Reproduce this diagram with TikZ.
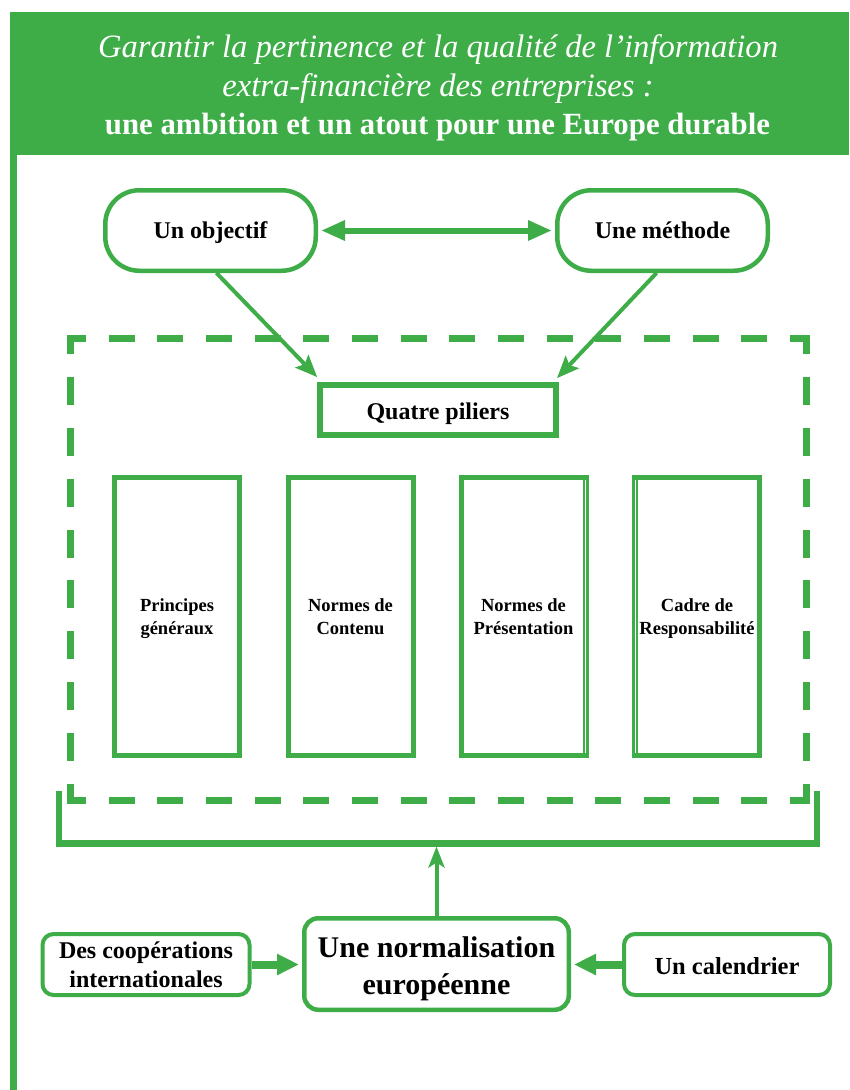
\documentclass[tikz,border=0pt]{standalone}
\usepackage{fontspec}
\setmainfont{Liberation Serif}
\usetikzlibrary{arrows.meta,calc}
\definecolor{vgreen}{RGB}{62,173,72}
% text block whose first baseline is placed by its declared height/depth
\newcommand\txtblock[3]{\raisebox{0pt}[#1][#2]{\begin{tabular}[t]{@{}c@{}}#3\end{tabular}}}
\begin{document}
\begin{tikzpicture}[x=1pt,y=-1pt,
  lbl/.style={text=black, font=\bfseries\fontsize{24}{28}\selectfont, inner sep=0pt},
  roundbox/.style={lbl, draw=vgreen, line width=4.5pt, rounded corners=34pt, minimum width=210.5pt, minimum height=80.5pt},
  titlebox/.style={lbl, draw=vgreen, line width=6pt, minimum width=236pt, minimum height=50pt},
  pillar/.style={lbl, draw=vgreen, line width=5pt, minimum width=125pt, minimum height=278pt, font=\bfseries\fontsize{18.5}{22.3}\selectfont},
  smallbox/.style={lbl, draw=vgreen, line width=4pt, rounded corners=11pt, minimum width=207pt, minimum height=61pt, font=\bfseries\fontsize{24}{29}\selectfont},
  bigbox/.style={lbl, draw=vgreen, line width=4.5pt, rounded corners=14pt, minimum width=264.5pt, minimum height=91.5pt, font=\bfseries\fontsize{30}{37}\selectfont},
  dasharr/.style={draw=vgreen, line width=6pt, {Triangle[length=24pt,width=19pt]}-{Triangle[length=24pt,width=19pt]}, shorten <=3pt, shorten >=3pt},
  diagarr/.style={draw=vgreen, line width=4pt, -{Stealth[length=22pt,width=18pt,inset=4pt]}, shorten >=4pt},
  uparr/.style={draw=vgreen, line width=4pt, -{Stealth[length=21pt,width=16pt,inset=5pt]}, shorten >=3pt},
  fatarr/.style={draw=vgreen, line width=8pt, -{Triangle[length=22pt,width=20pt]}, shorten >=3pt},
  framecorner/.style={draw=vgreen, line width=7pt, miter limit=10},
  framehside/.style={draw=vgreen, line width=7pt, dash pattern=on 26pt off 22.67pt, dash phase=26pt},
  framevside/.style={draw=vgreen, line width=7pt, dash pattern=on 28pt off 22.89pt, dash phase=28pt},
  brk/.style={draw=vgreen, line width=6.5pt},
  titletext/.style={text=white, inner sep=0pt, anchor=base}
]
\useasboundingbox (0,0) rectangle (849,1090);
\fill[white] (0,0) rectangle (849,1090);
% header and left bar
\fill[vgreen] (10,12) rectangle (849,155);
\fill[vgreen] (10,150) rectangle (17,1090);
\node[titletext, font=\itshape\fontsize{32.6}{39}\selectfont] (t1) at (438,57) {Garantir la pertinence et la qualité de l’information};
\node[titletext, font=\itshape\fontsize{32.6}{39}\selectfont] (t2) at (438,96.5) {extra-financière des entreprises :};
\node[titletext, font=\bfseries\fontsize{30.8}{39}\selectfont] (t3) at (437.5,134) {une ambition et un atout pour une Europe durable};

% top nodes
\node[roundbox] (obj) at (210.5,230.5) {\txtblock{16.5pt}{0pt}{Un objectif}};
\node[roundbox] (meth) at (662.5,230.5) {\txtblock{16.5pt}{0pt}{Une méthode}};
\draw[dasharr] (obj.east) -- (meth.west);

% dashed frame: corners and dashed sides
\coordinate (ftl) at (70,338);
\coordinate (ftr) at (806,338);
\coordinate (fbl) at (70,800);
\coordinate (fbr) at (806,800);
\draw[framecorner] ([yshift=-16pt]ftl) -- (ftl) -- ([xshift=16pt]ftl);
\draw[framecorner] ([xshift=-16pt]ftr) -- (ftr) -- ([yshift=-16pt]ftr);
\draw[framecorner] ([yshift=16pt]fbl) -- (fbl) -- ([xshift=16pt]fbl);
\draw[framecorner] ([xshift=-16pt]fbr) -- (fbr) -- ([yshift=16pt]fbr);
\draw[framehside] ([xshift=16pt]ftl) -- ([xshift=-16pt]ftr);
\draw[framehside] ([xshift=16pt]fbl) -- ([xshift=-16pt]fbr);
\draw[framevside] ([yshift=-16pt]ftl) -- ([yshift=16pt]fbl);
\draw[framevside] ([yshift=-16pt]ftr) -- ([yshift=16pt]fbr);

\node[titlebox] (quatre) at (438,410) {\txtblock{18.6pt}{0pt}{Quatre piliers}};
\draw[diagarr] ([xshift=6pt]obj.south) -- ([xshift=3pt,yshift=2pt]quatre.north west);
\draw[diagarr] ([xshift=-6pt]meth.south) -- ([xshift=-4.7pt,yshift=1pt]quatre.north east);

% pillars
\node[pillar] (p1) at (177,616.5) {\txtblock{0pt}{9.6pt}{Principes\\généraux}};
\node[pillar] (p2) at (350.5,616.5) {\txtblock{0pt}{9.6pt}{Normes de\\Contenu}};
\node[pillar] (p3) at (523.5,616.5) {\txtblock{0pt}{9.6pt}{Normes de\\Présentation}};
\node[pillar] (p4) at (697,616.5) {\txtblock{0pt}{9.6pt}{Cadre de\\Responsabilité}};
\draw[vgreen, line width=1.4pt] ([xshift=-5.2pt,yshift=-2pt]p3.north east) -- ([xshift=-5.2pt,yshift=2pt]p3.south east);
\draw[white, line width=0.8pt] ([xshift=-3.6pt,yshift=-5pt]p3.north east) -- ([xshift=-3.6pt,yshift=5pt]p3.south east);
\draw[vgreen, line width=1.6pt] ([xshift=5.5pt,yshift=-2pt]p4.north west) -- ([xshift=5.5pt,yshift=2pt]p4.south west);
\draw[white, line width=0.8pt] ([xshift=3.3pt,yshift=-5pt]p4.north west) -- ([xshift=3.3pt,yshift=5pt]p4.south west);

% bracket
\coordinate (bl) at (59,791);
\coordinate (br) at (817,791);
\coordinate (bm) at (436.5,843.5);
\draw[brk] (bl) |- (bm) -| (br);

% bottom nodes
\node[bigbox] (norm) at (436.5,964) {\txtblock{0pt}{13.4pt}{Une normalisation\\européenne}};
\node[smallbox] (coop) at (146,964.5) {\txtblock{0pt}{12.4pt}{Des coopérations\\internationales}};
\node[smallbox, minimum width=206pt, font=\bfseries\fontsize{24.5}{29}\selectfont] (cal) at (727,964.5) {\txtblock{20.6pt}{0pt}{Un calendrier}};

\draw[uparr] (norm.north) -- (bm);
\draw[fatarr] (coop.east) -- (coop.east -| norm.west);
\draw[fatarr] (cal.west) -- (cal.west -| norm.east);
\end{tikzpicture}
\end{document}
